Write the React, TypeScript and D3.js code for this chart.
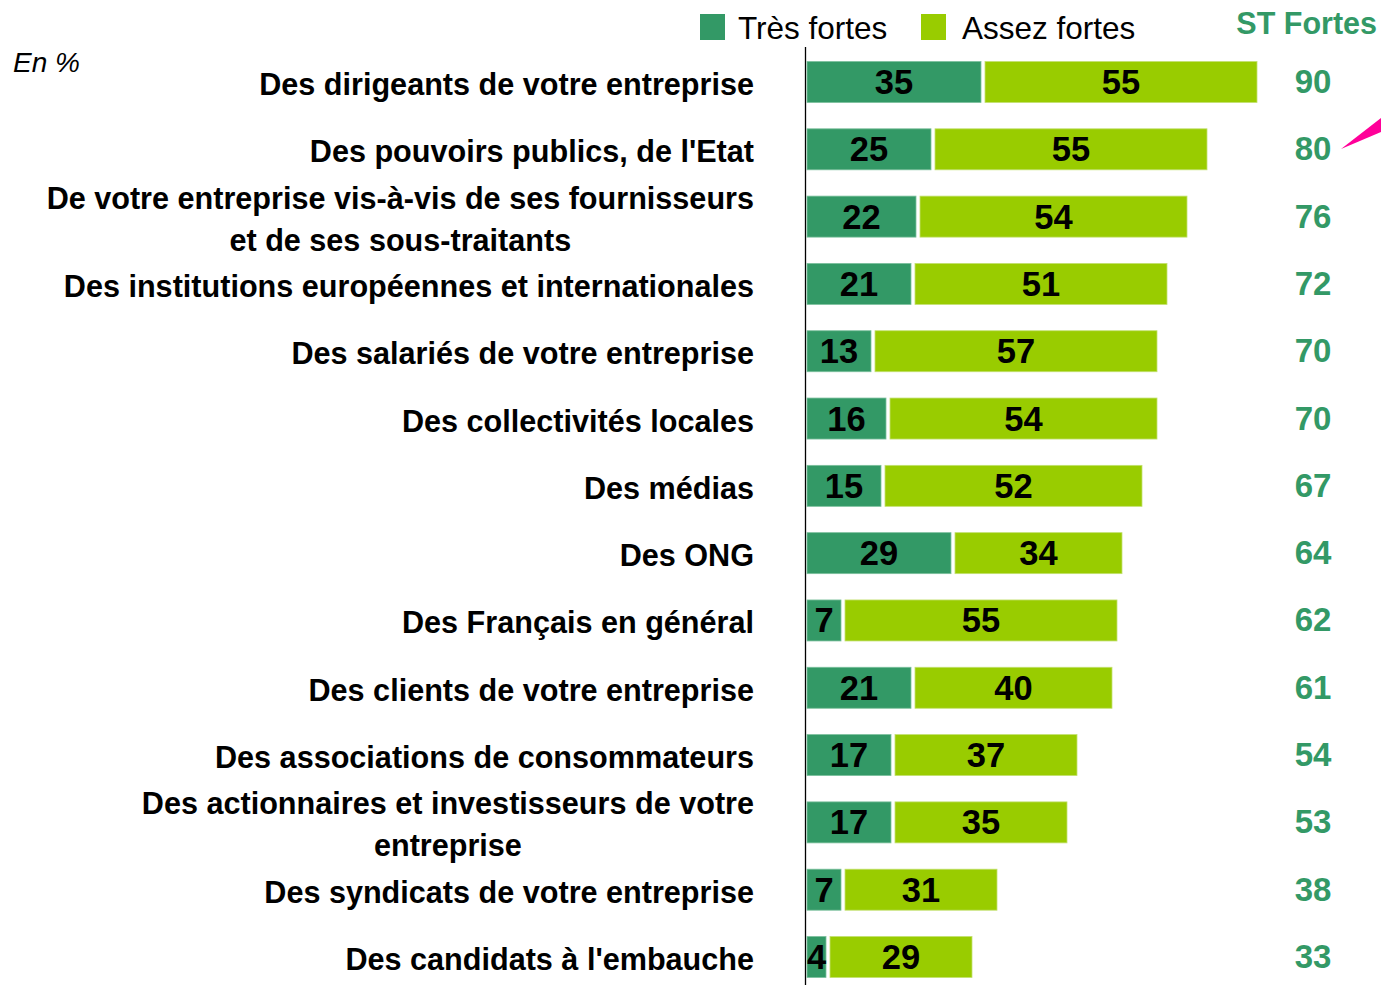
import React, { useEffect, useRef } from "react";
import * as d3 from "d3";

const categories: string[] = [
  "Des dirigeants de votre entreprise",
  "Des pouvoirs publics, de l'Etat",
  "De votre entreprise vis-à-vis de ses fournisseurs\net de ses sous-traitants",
  "Des institutions européennes et internationales",
  "Des salariés de votre entreprise",
  "Des collectivités locales",
  "Des médias",
  "Des ONG",
  "Des Français en général",
  "Des clients de votre entreprise",
  "Des associations de consommateurs",
  "Des actionnaires et investisseurs de votre\nentreprise",
  "Des syndicats de votre entreprise",
  "Des candidats à l'embauche",
];
const tresFortes: number[] = [35, 25, 22, 21, 13, 16, 15, 29, 7, 21, 17, 17, 7, 4];
const assezFortes: number[] = [55, 55, 54, 51, 57, 54, 52, 34, 55, 40, 37, 35, 31, 29];
const stFortes: number[] = [90, 80, 76, 72, 70, 70, 67, 64, 62, 61, 54, 53, 38, 33];
const legendLabels: string[] = ["Très fortes", "Assez fortes"];
const totalTitle = "ST Fortes";
const unitNote = "En %";

const W = 1381;
const H = 985;
const DARK = "#339966";
const LIGHT = "#99CC00";
const FONT = "'Liberation Sans', Arial, Helvetica, sans-serif";

export default function App() {
  const ref = useRef<SVGSVGElement | null>(null);

  useEffect(() => {
    const svg = d3.select(ref.current);
    svg.selectAll("*").remove();

    const x = d3.scaleLinear().domain([0, 100]).range([806, 1306]);
    const y = d3.scalePoint<string>().domain(categories).range([82, 957]);
    const barH = 41;

    const rows = categories.map((c, i) => ({
      c,
      a: tresFortes[i],
      b: assezFortes[i],
      t: stFortes[i],
      cy: y(c) as number,
    }));

    // axis line
    svg
      .append("line")
      .attr("x1", 805.5)
      .attr("x2", 805.5)
      .attr("y1", 47)
      .attr("y2", H)
      .attr("stroke", "#000")
      .attr("stroke-width", 1.3);

    const g = svg.append("g");
    const row = g.selectAll("g.row").data(rows).join("g").attr("class", "row");

    row
      .append("rect")
      .attr("x", x(0) + 1)
      .attr("y", (d) => d.cy - barH / 2)
      .attr("width", (d) => x(d.a) - x(0) - 1)
      .attr("height", barH)
      .attr("fill", DARK)
      .attr("stroke", "#7cc09d")
      .attr("stroke-width", 0.8);

    row
      .append("rect")
      .attr("x", (d) => x(d.a) + 4)
      .attr("y", (d) => d.cy - barH / 2)
      .attr("width", (d) => x(d.a + d.b) - x(d.a) - 3)
      .attr("height", barH)
      .attr("fill", LIGHT)
      .attr("stroke", "#c2e070")
      .attr("stroke-width", 0.8);

    row
      .append("text")
      .attr("x", (d) => (x(0) + 1 + x(d.a)) / 2)
      .attr("y", (d) => d.cy + 12)
      .attr("text-anchor", "middle")
      .attr("font-family", FONT)
      .attr("font-weight", "bold")
      .attr("font-size", 34.5)
      .attr("fill", "#000")
      .text((d) => d.a);

    row
      .append("text")
      .attr("x", (d) => (x(d.a) + 4 + x(d.a + d.b) + 1) / 2)
      .attr("y", (d) => d.cy + 12)
      .attr("text-anchor", "middle")
      .attr("font-family", FONT)
      .attr("font-weight", "bold")
      .attr("font-size", 34.5)
      .attr("fill", "#000")
      .text((d) => d.b);

    row
      .append("text")
      .attr("x", 1313)
      .attr("y", (d) => d.cy + 11)
      .attr("text-anchor", "middle")
      .attr("font-family", FONT)
      .attr("font-weight", "bold")
      .attr("font-size", 33)
      .attr("fill", DARK)
      .text((d) => d.t);

    // category labels
    row.each(function (d) {
      const lines = d.c.split("\n");
      const t = d3
        .select(this)
        .append("text")
        .attr("font-family", FONT)
        .attr("font-weight", "bold")
        .attr("font-size", 30.6)
        .attr("fill", "#000")
        .attr("text-anchor", "middle");
      const lh = 42;
      const first = d.cy + 13 - ((lines.length - 1) * lh) / 2;
      lines.forEach((ln, k) => {
        t.append("tspan").attr("x", 0).attr("y", first + k * lh).text(ln);
      });
      const node = t.node() as SVGTextElement;
      const w = node.getBBox().width;
      t.attr("transform", `translate(${754 - w / 2},0)`);
    });

    // legend
    const legX = [700, 921];
    const legTextX = [738, 962];
    legendLabels.forEach((lab, i) => {
      svg
        .append("rect")
        .attr("x", legX[i])
        .attr("y", 14)
        .attr("width", 25)
        .attr("height", 26)
        .attr("fill", i === 0 ? DARK : LIGHT);
      svg
        .append("text")
        .attr("x", legTextX[i])
        .attr("y", 39)
        .attr("font-family", FONT)
        .attr("font-size", 31.5)
        .attr("fill", "#000")
        .text(lab);
    });

    svg
      .append("text")
      .attr("x", 1377)
      .attr("y", 34)
      .attr("text-anchor", "end")
      .attr("font-family", FONT)
      .attr("font-weight", "bold")
      .attr("font-size", 30.5)
      .attr("fill", DARK)
      .text(totalTitle);

    svg
      .append("text")
      .attr("x", 13)
      .attr("y", 72)
      .attr("font-family", FONT)
      .attr("font-style", "italic")
      .attr("font-size", 28)
      .attr("fill", "#000")
      .text(unitNote);

    // pink pointer wedge
    svg
      .append("polygon")
      .attr("points", "1341,149 1381,118 1381,132")
      .attr("fill", "#FF0099");
  }, []);

  return (
    <svg
      ref={ref}
      width={W}
      height={H}
      style={{ position: "absolute", left: 0, top: 0, background: "#fff" }}
    />
  );
}
